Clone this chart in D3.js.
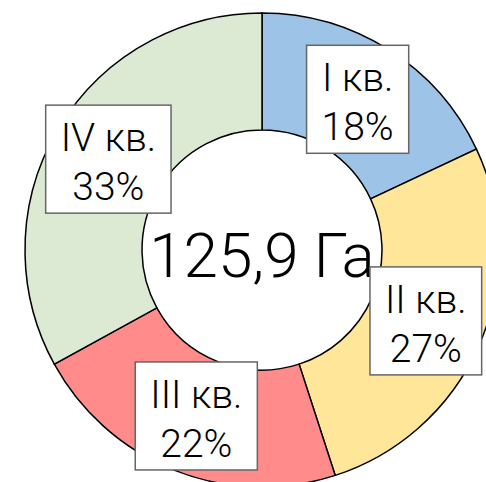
<!DOCTYPE html>
<html>
<head>
<meta charset="utf-8">
<script src="https://cdn.jsdelivr.net/npm/d3@7"></script>
<style>
  body { margin: 0; background: #fff; }
  svg { display: block; font-family: Roboto, "Liberation Sans", sans-serif; font-weight: 300; }
</style>
</head>
<body>
<svg id="chart" width="486" height="482"></svg>
<script>
var quarters = ["I кв.", "II кв.", "III кв.", "IV кв."];
var shares = [18, 27, 22, 33];
var colors = ["#9dc3e6", "#ffe699", "#ff8b8b", "#dcead4"];
var total = "125,9 Га";

var svg = d3.select("#chart");
var cx = 262, cy = 250;
var outerR = 237, innerR = 120;

var data = quarters.map(function (q, i) {
	return { name: q, value: shares[i], color: colors[i] };
});

var pie = d3.pie()
	.sort(null)
	.value(function (d) { return d.value; });

var arc = d3.arc().innerRadius(innerR).outerRadius(outerR);

var g = svg.append("g").attr("transform", "translate(" + cx + "," + cy + ")");

g.selectAll(".slice")
	.data(pie(data))
	.enter()
	.append("path")
	.attr("class", "slice")
	.attr("d", arc)
	.attr("fill", function (d) { return d.data.color; })
	.attr("stroke", "#000")
	.attr("stroke-width", 1.5);

g.append("text")
	.attr("x", 0)
	.attr("y", 27)
	.attr("text-anchor", "middle")
	.attr("font-size", 62)
	.attr("fill", "#000")
	.text(total);

// labels in boxes at slice centroids
var labels = g.selectAll(".lbl")
	.data(pie(data))
	.enter()
	.append("g")
	.attr("class", "lbl")
	.attr("transform", function (d) {
		var c = arc.centroid(d);
		return "translate(" + c[0] + "," + c[1] + ")";
	});

var boxes = labels.append("rect")
	.attr("fill", "#fff")
	.attr("stroke", "#666")
	.attr("stroke-width", 1.5);

var texts = labels.append("text")
	.attr("text-anchor", "middle")
	.attr("font-size", 39)
	.attr("fill", "#000");

texts.append("tspan").attr("x", 0).attr("y", -8).text(function (d) { return d.data.name; });
texts.append("tspan").attr("x", 0).attr("y", 41).text(function (d) { return d.data.value + "%"; });

texts.each(function (d) {
	var b = this.getBBox();
	var w = b.width + 30;
	d3.select(this.parentNode).select("rect")
		.attr("x", -w / 2)
		.attr("y", -54)
		.attr("width", w)
		.attr("height", 108);
});
</script>
</body>
</html>
